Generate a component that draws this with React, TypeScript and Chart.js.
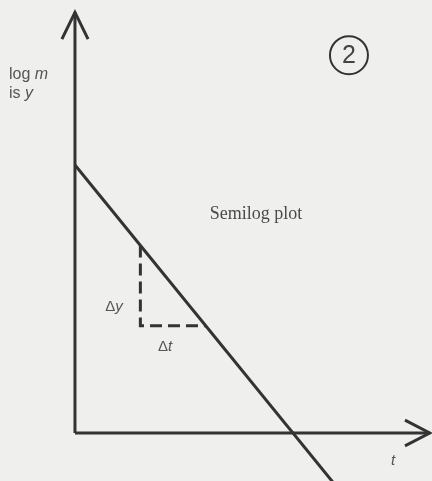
import React, { useEffect, useRef } from "react";
import { Chart, registerables } from "chart.js";

Chart.register(...registerables);

// Straight-line decay on semilog axes: log m (called y) against t.
const decayT = [0, 12];
const decayY = [10, -2];

// Slope triangle taken under the line.
const stepT = [3, 3, 6];
const stepY = [7, 4, 4];

// Axes with arrow heads.
const yAxisT = [0, 0];
const yAxisY = [0, 15.7];
const yArrowT = [-0.6, 0, 0.6];
const yArrowY = [14.7, 15.7, 14.7];
const xAxisT = [0, 16.28];
const xAxisY = [0, 0];
const xArrowT = [15.14, 16.28, 15.14];
const xArrowY = [0.48, 0, -0.48];

const INK = "#333333";
const TEXT = "#555555";

const toPoints = (ts: number[], ys: number[]) => ts.map((t, i) => ({ x: t, y: ys[i] }));

const lineSet = (data: { x: number; y: number }[], dash: number[] = []) => ({
  data,
  borderColor: INK,
  borderWidth: 3,
  borderDash: dash,
  pointRadius: 0,
  showLine: true,
  fill: false,
  tension: 0,
  borderCapStyle: "butt" as const,
  borderJoinStyle: "miter" as const,
});

const labelsPlugin = {
  id: "diagramLabels",
  beforeDraw(chart: any) {
    const { ctx, width, height } = chart;
    ctx.save();
    ctx.fillStyle = "#efefed";
    ctx.fillRect(0, 0, width, height);
    ctx.restore();
  },
  afterDraw(chart: any) {
    const { ctx } = chart;
    const xs = chart.scales.x;
    const ys = chart.scales.y;
    const px = (t: number) => xs.getPixelForValue(t);
    const py = (y: number) => ys.getPixelForValue(y);
    const sans = '"Liberation Sans", Arial, sans-serif';
    const serif = '"Liberation Serif", "Times New Roman", serif';

    ctx.save();
    ctx.fillStyle = TEXT;
    ctx.textBaseline = "alphabetic";
    ctx.textAlign = "left";

    // Draws mixed upright/italic runs on one baseline
    const drawRuns = (runs: [string, string][], x: number, y: number) => {
      let cx = x;
      for (const [font, s] of runs) {
        ctx.font = font;
        ctx.fillText(s, cx, y);
        cx += ctx.measureText(s).width;
      }
    };

    // Axis name, upper left
    drawRuns([["16px " + sans, "log "], ["italic 16px " + sans, "m"]], px(-3.03), py(13.2));
    drawRuns([["16px " + sans, "is "], ["italic 16px " + sans, "y"]], px(-3.03), py(12.5));

    // Increments along the triangle
    drawRuns([["15px " + sans, "\u0394"], ["italic 15px " + sans, "y"]], px(1.39), py(4.57));
    drawRuns([["15px " + sans, "\u0394"], ["italic 15px " + sans, "t"]], px(3.81), py(3.06));

    // Time axis name
    ctx.font = "italic 15px " + sans;
    ctx.fillText("t", px(14.5), py(-1.2));

    // Plot caption
    ctx.font = "18px " + serif;
    ctx.textAlign = "center";
    ctx.fillStyle = "#4a4a4a";
    ctx.fillText("Semilog plot", px(8.3), py(8.0));

    // Circled figure number
    const cx = px(12.57);
    const cy = py(14.1);
    ctx.strokeStyle = INK;
    ctx.lineWidth = 2;
    ctx.beginPath();
    ctx.arc(cx, cy, 19, 0, Math.PI * 2);
    ctx.stroke();
    ctx.font = "25px " + sans;
    ctx.textBaseline = "middle";
    ctx.fillStyle = "#444444";
    ctx.fillText("2", cx, cy + 1);

    ctx.restore();
  },
};

export default function App() {
  const canvasRef = useRef<HTMLCanvasElement>(null);

  useEffect(() => {
    document.body.style.margin = "0";
    const canvas = canvasRef.current;
    if (!canvas) return;
    const chart = new Chart(canvas, {
      type: "scatter",
      data: {
        datasets: [
          lineSet(toPoints(yAxisT, yAxisY)),
          lineSet(toPoints(yArrowT, yArrowY)),
          lineSet(toPoints(xAxisT, xAxisY)),
          lineSet(toPoints(xArrowT, xArrowY)),
          lineSet(toPoints(decayT, decayY)),
          lineSet(toPoints(stepT, stepY), [12, 6]),
        ],
      },
      options: {
        animation: false,
        responsive: false,
        maintainAspectRatio: false,
        layout: { padding: 0 },
        plugins: {
          legend: { display: false },
          tooltip: { enabled: false },
          title: { display: false },
        },
        scales: {
          x: { type: "linear", display: false, min: -3.44, max: 16.38 },
          y: { type: "linear", display: false, min: -1.79, max: 16.16 },
        },
      },
      plugins: [labelsPlugin],
    });
    return () => chart.destroy();
  }, []);

  return (
    <div style={{ width: 432, height: 481, background: "#efefed" }}>
      <canvas ref={canvasRef} width={432} height={481} style={{ display: "block" }} />
    </div>
  );
}
